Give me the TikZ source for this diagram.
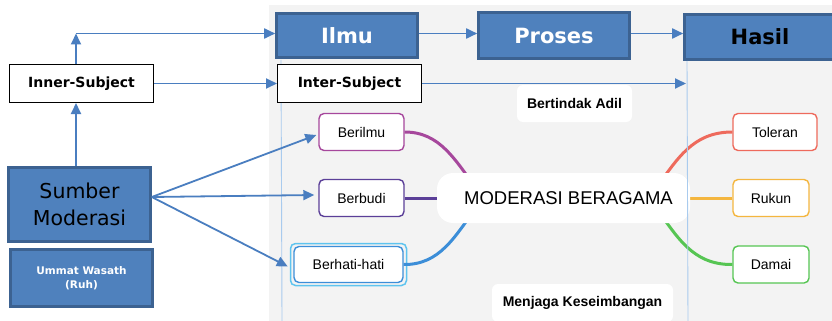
\documentclass[tikz,border=0pt]{standalone}
\usepackage{fontspec}
\newfontfamily\dv{DejaVu Sans}
\newfontfamily\lib{Liberation Sans}
\usetikzlibrary{arrows.meta,calc}
\definecolor{bluefill}{HTML}{4F81BD}
\definecolor{blueedge}{HTML}{3C6291}
\definecolor{arrowblue}{HTML}{4A7EC0}
\definecolor{bggray}{HTML}{F3F3F3}
\definecolor{vlinec}{HTML}{A9CBEE}
\definecolor{cIlmu}{HTML}{A6479C}
\definecolor{cBudi}{HTML}{5B3F98}
\definecolor{cHati}{HTML}{3C8ED8}
\definecolor{cHl}{HTML}{5EC4EF}
\definecolor{cTol}{HTML}{EE6A5C}
\definecolor{cRuk}{HTML}{F4B63F}
\definecolor{cDam}{HTML}{56C553}
\begin{document}
\begin{tikzpicture}[x=1pt,y=-1pt,
  bluebox/.style={draw=blueedge, line width=2.6pt, fill=bluefill, inner sep=0pt, text=white,
    font=\dv\bfseries\fontsize{21}{24}\selectfont},
  whitebox/.style={draw=black, line width=1pt, fill=white, inner sep=0pt,
    minimum width=144pt, minimum height=38pt, font=\dv\bfseries\fontsize{14}{16}\selectfont},
  mmbox/.style={draw, rounded corners=5pt, line width=1.4pt, fill=white, inner sep=0pt,
    minimum height=37pt, font=\lib\fontsize{14}{16}\selectfont},
  lbl/.style={fill=white, rounded corners=6pt, inner sep=0pt, font=\lib\bfseries\fontsize{14}{16}\selectfont},
  arr/.style={draw=arrowblue, line width=1.8pt, -{Triangle[length=11pt,width=10pt]}},
  branch/.style={line width=3pt},
  vl/.style={draw=vlinec, line width=0.9pt}
]
\useasboundingbox (0,0) rectangle (832,321);
\fill[white] (0,0) rectangle (832,321);
\fill[bggray] (269,5) rectangle (832,321);

% thin vertical guide lines
\coordinate (vla) at (281,60);
\coordinate (vlb) at (282,321);
\coordinate (vra) at (687,61);
\coordinate (vrb) at (688,321);
\draw[vl] (vla) -- (vlb);

% top row
\node[bluebox, minimum width=141pt, minimum height=44pt] (ilmu) at (347,35.5) {Ilmu};
\node[bluebox, minimum width=151pt, minimum height=46pt] (proses) at (554,35.5) {Proses};
\node[bluebox, minimum width=151pt, minimum height=45pt, text=black] (hasil) at (760,37) {Hasil};

% white subject boxes
\node[whitebox] (inner) at (81.5,83.5) {Inner-Subject};
\node[whitebox] (inter) at (349.5,83.5) {Inter-Subject};

% left blue boxes
\node[bluebox, minimum width=142pt, minimum height=74pt, text=black,
  font=\dv\fontsize{20.5}{27}\selectfont, align=center] (sumber) at (79.5,204.5) {Sumber\\Moderasi};
\node[bluebox, minimum width=142pt, minimum height=57pt, align=center,
  font=\dv\bfseries\fontsize{10.5}{14}\selectfont] (ummat) at (81.5,278) {Ummat Wasath\\(Ruh)};

% labels
\node[lbl, minimum width=115pt, minimum height=37pt] (adil) at (574.5,103.5) {Bertindak Adil};
\node[lbl, minimum width=181pt, minimum height=38pt] (jaga) at (582.5,303) {Menjaga Keseimbangan};

% mind map boxes
\node[mmbox, draw=cIlmu, minimum width=85pt] (berilmu) at (361.5,132) {Berilmu};
\node[mmbox, draw=cBudi, minimum width=85pt] (berbudi) at (361.5,198) {Berbudi};
\node[draw=cHl, line width=1.5pt, rounded corners=5pt, minimum width=116pt, minimum height=42pt,
  inner sep=0pt] (hl) at (348.5,264.5) {};
\node[mmbox, draw=cHati, minimum width=109pt, minimum height=36pt] (hati) at (348.5,264.5) {Berhati-hati};
\node[mmbox, draw=cTol, minimum width=84pt] (toleran) at (775,132) {Toleran};
\node[mmbox, draw=cRuk, minimum width=76pt] (rukun) at (771,198) {Rukun};
\node[mmbox, draw=cDam, minimum width=76pt] (damai) at (771,264.5) {Damai};

% branches
\coordinate (cl1) at (476,188);
\coordinate (cl2) at (445,198);
\coordinate (cl3) at (476,208);
\coordinate (cr1) at (656,188);
\coordinate (cr2) at (686,198);
\coordinate (cr3) at (656,208);
\draw[branch, draw=cIlmu] (berilmu.east) .. controls (440,132) and (455,160) .. (cl1);
\draw[branch, draw=cBudi] (berbudi.east) -- (cl2);
\draw[branch, draw=cHati] (hati.east) .. controls (440,265) and (455,236) .. (cl3);
\draw[branch, draw=cTol] (toleran.west) .. controls (692,132) and (677,160) .. (cr1);
\draw[branch, draw=cRuk] (rukun.west) -- (cr2);
\draw[branch, draw=cDam] (damai.west) .. controls (692,265) and (677,236) .. (cr3);

% central topic
\node[fill=white, rounded corners=16pt, minimum width=253pt, minimum height=50pt, inner sep=0pt,
  font=\lib\fontsize{18.5}{20}\selectfont] (center) at (563.5,198) {\hspace{10pt}MODERASI BERAGAMA};

\draw[vl] (vra) -- (vrb);

% arrows
\coordinate (up) at (76,33.5);
\coordinate (src) at ($(sumber.east)+(0,-7.5)$);
\coordinate (interend) at (686,83.5);
\draw[arr] (sumber.north -| up) -- (inner.south -| up);
\draw[arr] (inner.north -| up) -- (up);
\draw[arr] (up) -- (ilmu.west |- up);
\draw[arr] (inner.east) -- (inter.west);
\draw[arr] (ilmu.east |- up) -- (proses.west |- up);
\draw[arr] (proses.east |- up) -- (hasil.west |- up);
\draw[arr] (inter.east) -- (interend);
\draw[arr] (src) -- ($(berilmu.west)+(-2,3)$);
\draw[arr] (src) -- ($(berbudi.west)+(-4,-3)$);
\draw[arr] (src) -- ($(hl.west)+(-2,2)$);
\end{tikzpicture}
\end{document}
